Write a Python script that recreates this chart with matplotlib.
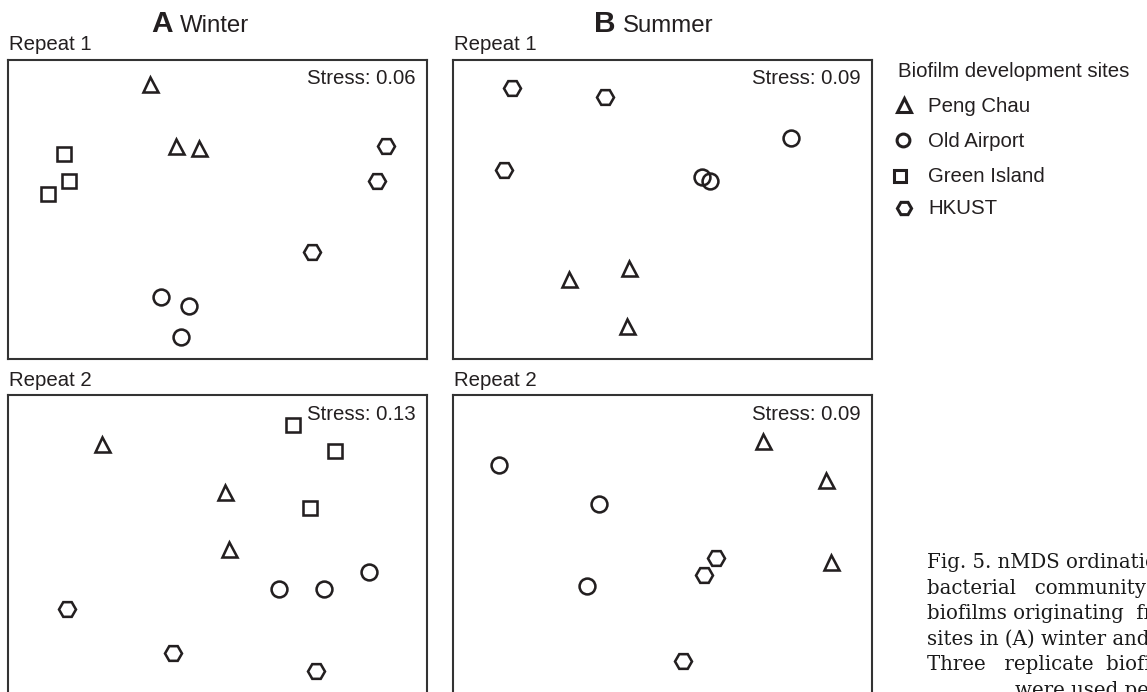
import matplotlib
matplotlib.use("Agg")
import matplotlib.pyplot as plt
from matplotlib.lines import Line2D

W, H, DPI = 1147, 692, 100
INK = "#231f20"
SANS = ["Liberation Sans", "DejaVu Sans"]
SERIF = ["DejaVu Serif"]

# ---------------- data (nMDS coordinates, scaled 0-100 inside each plot) ----
sites = ["Peng Chau", "Old Airport", "Green Island", "HKUST"]
site_markers = ["^", "o", "s", "H"]
marker_sizes = [10.8, 11.4, 9.4, 12.2]

panel_titles = ["Repeat 1", "Repeat 1", "Repeat 2", "Repeat 2"]
stress_values = [0.06, 0.09, 0.13, 0.09]
season_labels = [("A", "Winter"), ("B", "Summer")]

winter1_x = {"Peng Chau": [33.9, 40.1, 45.5], "Old Airport": [36.4, 43.3, 41.3],
             "Green Island": [13.4, 14.4, 9.6], "HKUST": [90.2, 88.2, 72.5]}
winter1_y = {"Peng Chau": [92.0, 71.4, 70.7], "Old Airport": [20.7, 17.8, 7.4],
             "Green Island": [68.5, 59.6, 55.1], "HKUST": [71.4, 59.6, 35.9]}

summer1_x = {"Peng Chau": [42.1, 27.7, 41.6], "Old Airport": [80.7, 59.4, 61.4],
             "Green Island": [], "HKUST": [14.0, 36.3, 12.1]}
summer1_y = {"Peng Chau": [30.4, 26.8, 11.1], "Old Airport": [74.0, 61.0, 59.6],
             "Green Island": [], "HKUST": [90.5, 87.7, 63.2]}

winter2_x = {"Peng Chau": [22.5, 51.8, 52.7], "Old Airport": [64.8, 75.5, 86.3],
             "Green Island": [68.1, 78.0, 72.1], "HKUST": [14.0, 39.4, 73.5]}
winter2_y = {"Peng Chau": [83.9, 67.9, 48.8], "Old Airport": [35.2, 35.2, 41.1],
             "Green Island": [90.2, 81.4, 62.3], "HKUST": [28.6, 13.9, 8.1]}

summer2_x = {"Peng Chau": [74.1, 89.1, 90.2], "Old Airport": [10.9, 34.8, 31.9],
             "Green Island": [], "HKUST": [62.9, 59.8, 54.8]}
summer2_y = {"Peng Chau": [84.8, 71.8, 44.5], "Old Airport": [76.7, 63.7, 36.5],
             "Green Island": [], "HKUST": [45.8, 40.0, 11.3]}

panels_x = [winter1_x, summer1_x, winter2_x, summer2_x]
panels_y = [winter1_y, summer1_y, winter2_y, summer2_y]

caption_lines = [
    "Fig. 5. nMDS ordination of",
    "bacterial   community",
    "biofilms originating  from",
    "sites in (A) winter and",
    "Three   replicate  biofilms",
    "were used per",
]

# ---------------- layout helpers -------------------------------------------
def fx(px):
    return px / W

def fy(py):
    return 1 - py / H

fig = plt.figure(figsize=(W / DPI, H / DPI), dpi=DPI)
fig.patch.set_facecolor("white")

ax_w, ax_h = 418.4, 299.3
ax_lefts = [8.3, 453.3, 8.3, 453.3]
ax_tops = [60.0, 60.0, 395.5, 395.5]

for i in range(4):
    left, top = ax_lefts[i], ax_tops[i]
    ax = fig.add_axes([fx(left), fy(top + ax_h), ax_w / W, ax_h / H])
    ax.set_xlim(0, 100)
    ax.set_ylim(0, 100)
    ax.set_xticks([])
    ax.set_yticks([])
    for sp in ax.spines.values():
        sp.set_linewidth(1.5)
        sp.set_color("#333333")
    for s, m, ms in zip(sites, site_markers, marker_sizes):
        xs, ys = panels_x[i][s], panels_y[i][s]
        if xs:
            ax.plot(xs, ys, linestyle="none", marker=m, markersize=ms,
                    markerfacecolor="none", markeredgecolor=INK,
                    markeredgewidth=1.85, clip_on=False)
    ax.text(1 - 11.5 / ax_w, 1 - 24.5 / ax_h, f"Stress: {stress_values[i]:.2f}",
            transform=ax.transAxes, ha="right", va="baseline",
            fontsize=14.7, family=SANS, color=INK)
    fig.text(fx(left + 1.0), fy(top - 10.0), panel_titles[i], ha="left",
             va="baseline", fontsize=14.7, family=SANS, color=INK)

# season headers
hdr = [(151.0, 180.0), (594.3, 622.7)]
for (letter, word), (xl, xw) in zip(season_labels, hdr):
    fig.text(fx(xl), fy(32.3), letter, ha="left", va="baseline",
             fontsize=21.5, fontweight="bold", family=SANS, color=INK)
    fig.text(fx(xw), fy(32.3), word, ha="left", va="baseline",
             fontsize=17.3, family=SANS, color=INK)

# legend
fig.text(fx(897.7), fy(76.7), "Biofilm development sites", ha="left",
         va="baseline", fontsize=14.7, family=SANS, color=INK)
leg_marker_y = [104.5, 140.0, 175.7, 208.3]
leg_marker_x = [903.7, 902.7, 900.0, 903.7]
leg_text_y = [111.7, 146.7, 181.7, 214.3]
leg_ms = [10.0, 9.2, 8.0, 10.2]
for s, m, ms, mx, my, ty in zip(sites, site_markers, leg_ms, leg_marker_x,
                                leg_marker_y, leg_text_y):
    fig.add_artist(Line2D([fx(mx)], [fy(my)], transform=fig.transFigure,
                          linestyle="none", marker=m, markersize=ms,
                          markerfacecolor="none", markeredgecolor=INK,
                          markeredgewidth=2.2))
    fig.text(fx(928.0), fy(ty), s, ha="left", va="baseline",
             fontsize=14.7, family=SANS, color=INK)

# caption (justified text, cut at the figure edge as in the source page)
caption_x = [926.7, 926.7, 926.7, 926.7, 926.7, 1015.0]
caption_base = [568.0, 593.5, 619.0, 644.5, 670.0, 695.5]
for text, xw, by in zip(caption_lines, caption_x, caption_base):
    fig.text(fx(xw), fy(by), text, ha="left", va="baseline",
             fontsize=14.2, family=SERIF, color="#1a1a1a")

fig.savefig("out.png", dpi=DPI)
